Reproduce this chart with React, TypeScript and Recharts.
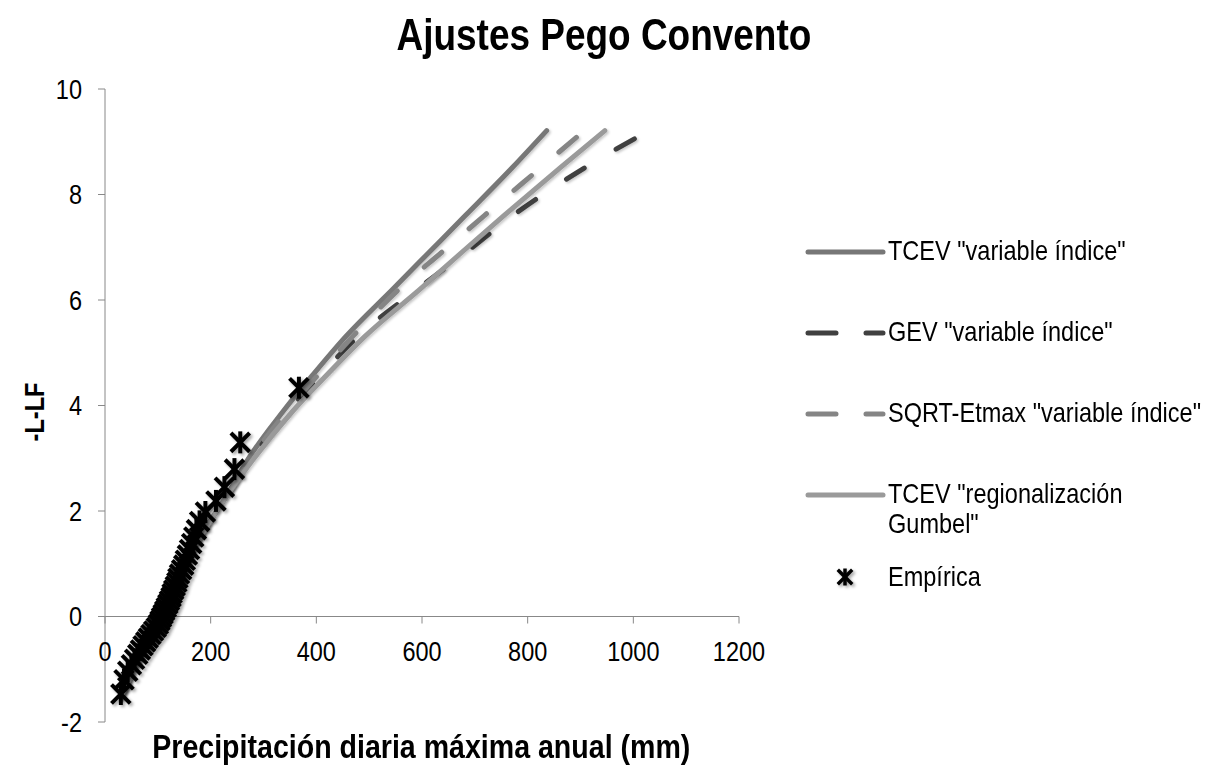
import { ComposedChart, Line, Scatter, XAxis, YAxis, ReferenceLine } from "recharts";

const FONT = '"Liberation Sans", Arial, sans-serif';
const NARROW = 0.84; // horizontal squeeze to get the condensed lettering

// Gumbel reduced variate for the fitted return periods (1.01 ... 10000 years)
const REDUCED_VARIATE = [-1.53, 0.37, 1.5, 2.25, 2.97, 3.9, 4.6, 5.3, 6.21, 6.91, 7.6, 8.52, 9.21];

// fitted quantiles (mm) for each model
const TCEV_VI = [30, 122, 180, 228, 270, 338, 395, 455, 545, 614, 682, 772, 836];
const GEV_VI = [30, 122, 180, 228, 276, 348, 410, 478, 592, 684, 772, 910, 1030];
const SQRT_VI = [30, 122, 180, 228, 274, 345, 405, 468, 557, 638, 718, 826, 907];
const TCEV_REG = [30, 122, 180, 228, 280, 356, 422, 491, 597, 676, 755, 863, 946];

// empirical series: plotting position (Gringorten) and observed annual maxima
const EMP_Y = [
  -1.469, -1.2, -1.038, -0.914, -0.81, -0.717, -0.633, -0.555, -0.481, -0.41, -0.341,
  -0.275, -0.21, -0.146, -0.082, -0.019, 0.044, 0.107, 0.171, 0.235, 0.3, 0.367, 0.434,
  0.504, 0.575, 0.648, 0.724, 0.804, 0.887, 0.974, 1.066, 1.164, 1.27, 1.384, 1.508,
  1.647, 1.803, 1.981, 2.191, 2.452, 2.794, 3.301, 4.337,
];
const EMP_X = [
  30, 36, 43, 50, 56, 62, 67, 72, 77, 82, 87, 92, 97, 101, 104, 107, 110, 113, 116, 119, 122,
  125, 127, 130, 133, 136, 138, 141, 145, 149, 152, 156, 160, 164, 168, 173, 179, 190, 210,
  226, 245, 256, 367,
];

const X_TICKS = [0, 200, 400, 600, 800, 1000, 1200];
const Y_TICKS = [-2, 0, 2, 4, 6, 8, 10];

const PLOT_TOP = 89;
const PLOT_H = 633;
const ZERO_SHIFT = (PLOT_H * 2) / 12; // distance from the bottom edge (y=-2) up to y=0

const toPoints = (xs: number[]) => xs.map((x, i) => ({ x, y: REDUCED_VARIATE[i] }));
const empirica = EMP_X.map((x, i) => ({ x, y: EMP_Y[i] }));

const SERIES = [
  { name: 'TCEV "variable índice"', values: TCEV_VI, color: "#777777", dash: undefined },
  { name: 'GEV "variable índice"', values: GEV_VI, color: "#404040", dash: "21 37" },
  { name: 'SQRT-Etmax "variable índice"', values: SQRT_VI, color: "#858585", dash: "23 36" },
  { name: 'TCEV "regionalización\nGumbel"', values: TCEV_REG, color: "#9a9a9a", dash: undefined },
];

function Asterisk(props: any) {
  const { cx, cy, r = 11, w = 4 } = props;
  if (cx == null || cy == null) return null;
  const d = r * 0.85;
  return (
    <g stroke="#000" strokeWidth={w} filter="url(#markShadow)">
      <line x1={cx} y1={cy - r} x2={cx} y2={cy + r} />
      <line x1={cx - d} y1={cy - d} x2={cx + d} y2={cy + d} />
      <line x1={cx - d} y1={cy + d} x2={cx + d} y2={cy - d} />
    </g>
  );
}

function Squeezed({ x, y, anchor, size, children }: any) {
  return (
    <text
      transform={`translate(${x},${y}) scale(${NARROW},1)`}
      textAnchor={anchor}
      dy="0.35em"
      fontSize={size}
      fill="#000"
      fontFamily={FONT}
    >
      {children}
    </text>
  );
}

// x ticks are drawn on the y=0 line instead of the bottom edge
function XTick(props: any) {
  const { x, y, payload } = props;
  const y0 = y - ZERO_SHIFT;
  return (
    <g>
      <line x1={x} x2={x} y1={y0} y2={y0 + 7} stroke="#888888" />
      <Squeezed x={x} y={y0 + 35} anchor="middle" size={28}>
        {payload.value}
      </Squeezed>
    </g>
  );
}

function YTick(props: any) {
  const { x, y, payload } = props;
  return (
    <Squeezed x={x} y={y} anchor="end" size={28}>
      {payload.value}
    </Squeezed>
  );
}

const squeeze = (origin: string) => ({
  display: "inline-block",
  transform: `scaleX(${NARROW})`,
  transformOrigin: origin,
  whiteSpace: "pre" as const,
});

function LegendBox() {
  return (
    <div style={{ position: "absolute", left: 800, top: 0, width: 423, height: 765 }}>
      {SERIES.map((s, i) => {
        const cy = 252 + i * 81;
        return (
          <div key={s.name}>
            <svg style={{ position: "absolute", left: 0, top: cy - 10 }} width={90} height={20}>
              <line
                x1={8}
                x2={83}
                y1={10}
                y2={10}
                stroke={s.color}
                strokeWidth={5}
                strokeLinecap="round"
                strokeDasharray={s.dash ? "28 30" : undefined}
              />
            </svg>
            <div style={{ position: "absolute", left: 88, top: cy - 16, fontSize: 28, lineHeight: "30px" }}>
              <span style={squeeze("left center")}>{s.name}</span>
            </div>
          </div>
        );
      })}
      <svg style={{ position: "absolute", left: 33, top: 565 }} width={26} height={26}>
        <Asterisk cx={12} cy={12} r={8.5} w={3.5} />
      </svg>
      <div style={{ position: "absolute", left: 88, top: 562, fontSize: 28, lineHeight: "30px" }}>
        <span style={squeeze("left center")}>Empírica</span>
      </div>
    </div>
  );
}

export default function App() {
  return (
    <div style={{ position: "absolute", left: 0, top: 0, width: 1223, height: 765, background: "#fff", fontFamily: FONT, overflow: "hidden" }}>
      <div style={{ position: "absolute", left: 0, width: 1207, top: 10, textAlign: "center", fontSize: 44, lineHeight: "50px", fontWeight: "bold" }}>
        <span style={squeeze("center")}>Ajustes Pego Convento</span>
      </div>
      <div
        style={{
          position: "absolute",
          left: 35,
          top: 412,
          transform: `translate(-50%, -50%) rotate(-90deg) scaleX(${NARROW})`,
          fontSize: 28,
          fontWeight: "bold",
          whiteSpace: "nowrap",
        }}
      >
        -L-LF
      </div>
      <div style={{ position: "absolute", left: 0, width: 842, top: 726, textAlign: "center", fontSize: 34, lineHeight: "40px", fontWeight: "bold" }}>
        <span style={squeeze("center")}>Precipitación diaria máxima anual (mm)</span>
      </div>
      <ComposedChart
        width={1223}
        height={765}
        margin={{ top: PLOT_TOP, right: 484, bottom: 765 - PLOT_TOP - PLOT_H - 10, left: 45 }}
        style={{ position: "absolute", left: 0, top: 0 }}
      >
        <defs>
          <filter id="markShadow" x="-50%" y="-50%" width="200%" height="200%">
            <feDropShadow dx={2} dy={2} stdDeviation={1.5} floodColor="#000" floodOpacity={0.35} />
          </filter>
          <filter id="lineShadow" x="-10%" y="-10%" width="120%" height="120%">
            <feDropShadow dx={1.5} dy={1.5} stdDeviation={1.2} floodColor="#000" floodOpacity={0.22} />
          </filter>
        </defs>
        <XAxis
          type="number"
          dataKey="x"
          domain={[0, 1200]}
          ticks={X_TICKS}
          interval={0}
          axisLine={false}
          tickLine={false}
          tickSize={0}
          tickMargin={0}
          height={10}
          tick={<XTick />}
        />
        <YAxis
          type="number"
          dataKey="y"
          domain={[-2, 10]}
          ticks={Y_TICKS}
          interval={0}
          width={60}
          stroke="#888888"
          tickSize={7}
          tickMargin={16}
          tick={<YTick />}
        />
        <ReferenceLine y={0} stroke="#888888" strokeWidth={1} />
        {SERIES.map((s) => (
          <Line
            key={s.name}
            data={toPoints(s.values)}
            dataKey="y"
            type="monotone"
            stroke={s.color}
            strokeWidth={5}
            strokeLinecap="round"
            strokeDasharray={s.dash}
            filter="url(#lineShadow)"
            dot={false}
            activeDot={false}
            isAnimationActive={false}
          />
        ))}
        <Scatter data={empirica} dataKey="y" shape={<Asterisk />} isAnimationActive={false} />
      </ComposedChart>
      <LegendBox />
    </div>
  );
}
